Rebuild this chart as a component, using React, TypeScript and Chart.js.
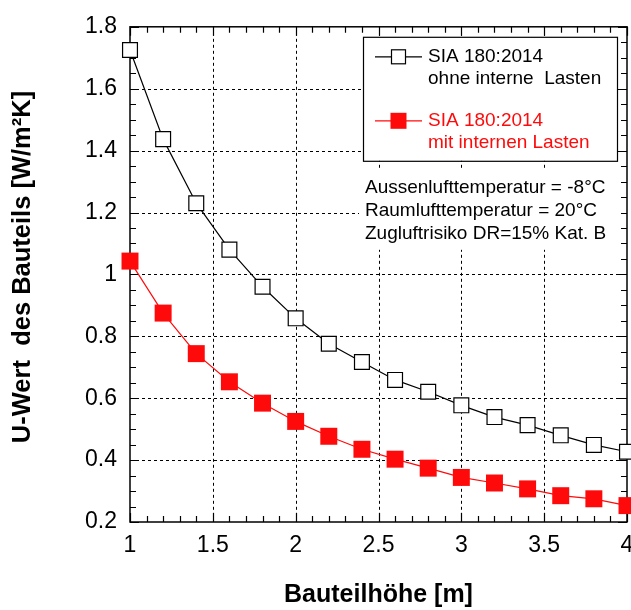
import React, { useEffect, useRef } from "react";
import { Chart, registerables } from "chart.js";

Chart.register(...registerables);

// ---- data ----
const heights = [1.0, 1.2, 1.4, 1.6, 1.8, 2.0, 2.2, 2.4, 2.6, 2.8, 3.0, 3.2, 3.4, 3.6, 3.8, 4.0];
const uOhneLasten = [1.725, 1.437, 1.23, 1.08, 0.96, 0.858, 0.776, 0.717, 0.659, 0.621, 0.577, 0.539, 0.513, 0.48, 0.449, 0.427];
const uMitLasten = [1.043, 0.875, 0.744, 0.653, 0.584, 0.525, 0.477, 0.435, 0.403, 0.374, 0.344, 0.326, 0.307, 0.285, 0.275, 0.253];

const xMin = 1;
const xMax = 4;
const xStep = 0.5;
const xMinorStep = 0.1;
const yMin = 0.2;
const yMax = 1.8;
const yStep = 0.2;
const yMinorStep = 0.05;

const legendOhne = ["SIA 180:2014", "ohne interne  Lasten"];
const legendMit = ["SIA 180:2014", "mit internen Lasten"];
const notes = ["Aussenlufttemperatur = -8°C", "Raumlufttemperatur = 20°C", "Zugluftrisiko DR=15% Kat. B"];

const xTitle = "Bauteilhöhe [m]";
const yTitle = "U-Wert  des Bauteils [W/m²K]";

const FONT = "'Liberation Sans', Arial, sans-serif";
const RED = "#ff0a0a";

const fmt = (v: number) => String(Number(v.toFixed(2)));

const framePlugin = {
  id: "frameAndGrid",
  beforeDatasetsDraw(chart: any) {
    const { ctx, chartArea: a, scales } = chart;
    const x = scales.x;
    const y = scales.y;
    ctx.save();
    ctx.strokeStyle = "#000";
    ctx.lineWidth = 1;

    // dashed grid at major ticks
    ctx.setLineDash([3, 3]);
    x.ticks.forEach((t: any) => {
      if (t.value <= xMin + 1e-9 || t.value >= xMax - 1e-9) return;
      const px = Math.round(x.getPixelForValue(t.value)) + 0.5;
      ctx.beginPath();
      ctx.moveTo(px, a.top);
      ctx.lineTo(px, a.bottom);
      ctx.stroke();
    });
    y.ticks.forEach((t: any) => {
      if (t.value <= yMin + 1e-9 || t.value >= yMax - 1e-9) return;
      const py = Math.round(y.getPixelForValue(t.value)) + 0.5;
      ctx.beginPath();
      ctx.moveTo(a.left, py);
      ctx.lineTo(a.right, py);
      ctx.stroke();
    });
    ctx.setLineDash([]);

    // inward ticks on all sides
    ctx.lineWidth = 1.2;
    const nx = Math.round((xMax - xMin) / xMinorStep);
    for (let i = 0; i <= nx; i++) {
      const v = xMin + i * xMinorStep;
      const major = Math.abs(v / xStep - Math.round(v / xStep)) < 1e-6;
      const len = major ? 9 : 6;
      const px = Math.round(x.getPixelForValue(v)) + 0.5;
      ctx.beginPath();
      ctx.moveTo(px, a.bottom);
      ctx.lineTo(px, a.bottom - len);
      ctx.moveTo(px, a.top);
      ctx.lineTo(px, a.top + len);
      ctx.stroke();
    }
    const ny = Math.round((yMax - yMin) / yMinorStep);
    for (let i = 0; i <= ny; i++) {
      const v = yMin + i * yMinorStep;
      const major = Math.abs(v / yStep - Math.round(v / yStep)) < 1e-6;
      const len = major ? 9 : 6;
      const py = Math.round(y.getPixelForValue(v)) + 0.5;
      ctx.beginPath();
      ctx.moveTo(a.left, py);
      ctx.lineTo(a.left + len, py);
      ctx.moveTo(a.right, py);
      ctx.lineTo(a.right - len, py);
      ctx.stroke();
    }

    // frame
    ctx.lineWidth = 1.5;
    ctx.strokeRect(a.left, a.top, a.right - a.left, a.bottom - a.top);

    // legend box
    const bx = a.right - 264;
    const by = a.top + 10;
    const bw = 254;
    const bh = 124;
    ctx.fillStyle = "#fff";
    ctx.fillRect(bx, by, bw, bh);
    ctx.lineWidth = 1.2;
    ctx.strokeStyle = "#000";
    ctx.strokeRect(bx + 0.5, by + 0.5, bw, bh);

    ctx.font = `19px ${FONT}`;
    ctx.textBaseline = "middle";
    ctx.textAlign = "left";
    const sampleL = bx + 12;
    const sampleR = bx + 59;
    const sampleC = (sampleL + sampleR) / 2;
    const textX = bx + 65;

    // series 1 sample
    const y1 = by + 20;
    ctx.strokeStyle = "#000";
    ctx.lineWidth = 1.2;
    ctx.beginPath();
    ctx.moveTo(sampleL, y1);
    ctx.lineTo(sampleR, y1);
    ctx.stroke();
    ctx.fillStyle = "#fff";
    ctx.fillRect(sampleC - 7, y1 - 7, 14, 14);
    ctx.strokeRect(sampleC - 7, y1 - 7, 14, 14);
    ctx.fillStyle = "#000";
    ctx.fillText(legendOhne[0], textX, y1);
    ctx.fillText(legendOhne[1], textX, y1 + 22);

    // series 2 sample
    const y2 = by + 84;
    ctx.strokeStyle = RED;
    ctx.beginPath();
    ctx.moveTo(sampleL, y2);
    ctx.lineTo(sampleR, y2);
    ctx.stroke();
    ctx.fillStyle = RED;
    ctx.fillRect(sampleC - 8, y2 - 8, 16, 16);
    ctx.fillText(legendMit[0], textX, y2);
    ctx.fillText(legendMit[1], textX, y2 + 22);

    // annotation
    const nx0 = bx - 4;
    const ny0 = by + bh + 9;
    ctx.fillStyle = "#fff";
    ctx.fillRect(nx0, ny0, 262, 80);
    ctx.fillStyle = "#000";
    notes.forEach((s, i) => ctx.fillText(s, bx + 2, ny0 + 18 + i * 23));

    ctx.restore();
  },
  afterDraw(chart: any) {
    const { ctx } = chart;
    ctx.save();
    ctx.translate(22.5, 267);
    ctx.rotate(-Math.PI / 2);
    ctx.font = `bold 25.5px ${FONT}`;
    ctx.fillStyle = "#000";
    ctx.textAlign = "center";
    ctx.textBaseline = "middle";
    ctx.fillText(yTitle, 0, 0);
    ctx.restore();
  },
};

export default function App() {
  const ref = useRef<HTMLCanvasElement | null>(null);

  useEffect(() => {
    if (!ref.current) return;
    const chart = new Chart(ref.current, {
      type: "line",
      data: {
        datasets: [
          {
            label: legendOhne.join(" "),
            data: heights.map((h, i) => ({ x: h, y: uOhneLasten[i] })),
            borderColor: "#000",
            borderWidth: 1.2,
            backgroundColor: "#fff",
            pointStyle: "rect",
            pointRadius: 10.5,
            pointBorderWidth: 1.2,
            pointBorderColor: "#000",
            pointBackgroundColor: "#fff",
            tension: 0,
            clip: false as any,
          },
          {
            label: legendMit.join(" "),
            data: heights.map((h, i) => ({ x: h, y: uMitLasten[i] })),
            borderColor: RED,
            borderWidth: 1.2,
            backgroundColor: RED,
            pointStyle: "rect",
            pointRadius: 12,
            pointBorderWidth: 0,
            pointBackgroundColor: RED,
            tension: 0,
            clip: false as any,
          },
        ],
      },
      options: {
        animation: false,
        responsive: false,
        maintainAspectRatio: false,
        layout: { autoPadding: false, padding: { left: 0, top: 22, right: 4, bottom: 0 } },
        plugins: { legend: { display: false }, tooltip: { enabled: false } },
        scales: {
          x: {
            type: "linear",
            min: xMin,
            max: xMax,
            grid: { display: false, drawTicks: false },
            border: { display: false },
            ticks: {
              stepSize: xStep,
              padding: 10,
              color: "#000",
              font: { family: FONT, size: 23 },
              callback: (v: any) => fmt(Number(v)),
            },
            title: {
              display: true,
              text: xTitle,
              color: "#000",
              font: { family: FONT, size: 25, weight: "bold", lineHeight: 1 },
              padding: { top: 0, bottom: 2 },
            },
            afterFit: (s: any) => {
              s.height = 88;
              s.paddingLeft = 0;
              s.paddingRight = 0;
            },
          },
          y: {
            type: "linear",
            min: yMin,
            max: yMax,
            grid: { display: false, drawTicks: false },
            border: { display: false },
            ticks: {
              stepSize: yStep,
              padding: 13,
              color: "#000",
              font: { family: FONT, size: 23 },
              callback: (v: any) => fmt(Number(v)),
            },
            title: { display: false },
            afterFit: (s: any) => {
              s.width = 130;
            },
          },
        },
      },
      plugins: [framePlugin],
    });
    return () => chart.destroy();
  }, []);

  return (
    <div style={{ position: "absolute", left: 0, top: 0, width: 631, height: 610, background: "#fff" }}>
      <canvas ref={ref} width={631} height={610} style={{ display: "block" }} />
    </div>
  );
}
